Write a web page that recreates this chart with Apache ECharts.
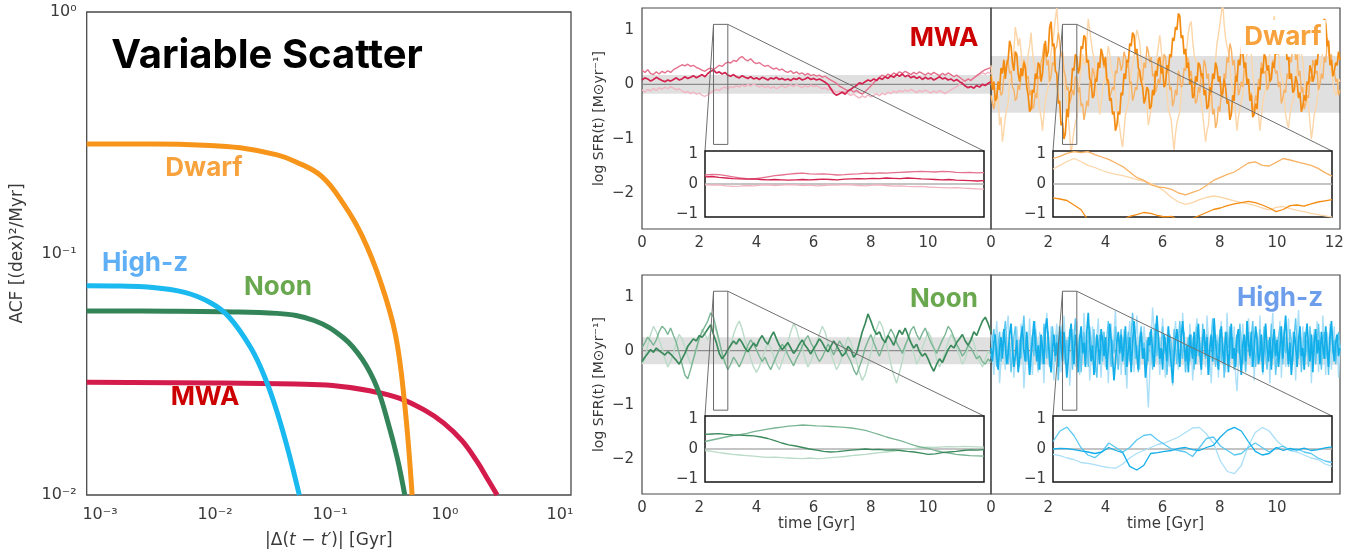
<!DOCTYPE html>
<html><head><meta charset="utf-8">
<script src="https://cdn.jsdelivr.net/npm/echarts@6/dist/echarts.min.js"></script>
<style>html,body{margin:0;padding:0;background:#fff}#c{width:1364px;height:554px}</style>
</head><body><div id="c"></div>
<script>
// ---------- Left panel: autocorrelation functions [|dt| (Gyr), ACF] ----------
const acfDwarf = [[0.000766,0.284],[0.003,0.284],[0.008,0.281],[0.0166,0.274],[0.0347,0.256],[0.0502,0.240],[0.0843,0.209],[0.1315,0.160],[0.1905,0.118],[0.275,0.0764],[0.371,0.0461],[0.447,0.0236],[0.518,0.0100]];
const acfHighz = [[0.000766,0.0735],[0.0015,0.0733],[0.0026,0.0726],[0.00545,0.0690],[0.00914,0.0625],[0.01324,0.0546],[0.02065,0.0404],[0.0278,0.0298],[0.0347,0.0220],[0.0434,0.0152],[0.0541,0.0100]];
const acfNoon = [[0.000766,0.0578],[0.004,0.0577],[0.01143,0.0574],[0.0347,0.0565],[0.0728,0.0528],[0.1315,0.0447],[0.1905,0.0365],[0.256,0.0279],[0.320,0.0199],[0.385,0.0142],[0.447,0.0100]];
const acfMWA = [[0.000766,0.0293],[0.01,0.0291],[0.05,0.0288],[0.1054,0.0284],[0.221,0.0270],[0.399,0.0252],[0.670,0.0224],[0.970,0.0199],[1.406,0.0168],[1.892,0.0138],[2.36,0.0116],[2.84,0.0100]];
const acfXTicks = [0.001,0.01,0.1,1,10];
const acfYTicks = [0.01,0.1,1];

// ---------- Right panels: log SFR(t) tracks ----------
const mainT0 = 0, mainDt = 0.1, fineDt = 0.05;
const mwaA = [0.08,0.12,0.10,0.06,0.09,0.13,0.10,0.07,0.05,0.08,0.06,
0.09,0.12,0.08,0.10,0.14,0.11,0.13,0.16,0.12,0.15,
0.18,0.14,0.20,0.24,0.26,0.21,0.23,0.19,0.22,0.17,
0.15,0.18,0.14,0.12,0.16,0.13,0.11,0.14,0.10,0.12,
0.09,0.13,0.11,0.08,0.12,0.10,0.13,0.09,0.11,0.08,
0.10,0.07,0.11,0.09,0.12,0.08,0.10,0.13,0.09,0.11,
0.08,0.10,0.07,0.04,0.00,-0.08,-0.16,-0.20,-0.17,-0.14,
-0.18,-0.12,-0.09,-0.05,-0.02,0.03,0.01,0.05,0.08,0.06,
0.10,0.07,0.12,0.09,0.14,0.11,0.16,0.13,0.18,0.15,
0.19,0.14,0.17,0.12,0.15,0.11,0.14,0.09,0.13,0.10,
0.12,0.08,0.11,0.14,0.10,0.12,0.08,0.10,0.06,0.09,
0.05,0.02,-0.03,-0.06,-0.04,-0.07,-0.02,-0.05,0.00,-0.02,
0.02,0.05];
const mwaB = [0.26,0.22,0.27,0.20,0.18,0.23,0.19,0.24,0.21,0.25,0.22,
0.27,0.30,0.33,0.36,0.34,0.37,0.33,0.35,0.31,0.29,
0.26,0.24,0.28,0.30,0.27,0.31,0.35,0.33,0.38,0.41,
0.39,0.44,0.42,0.48,0.51,0.46,0.43,0.47,0.41,0.38,
0.40,0.36,0.33,0.35,0.31,0.28,0.30,0.26,0.28,0.24,
0.22,0.25,0.20,0.23,0.19,0.21,0.17,0.20,0.16,0.18,
0.15,0.17,0.13,0.15,0.11,0.08,0.05,0.02,-0.03,-0.06,
-0.09,-0.12,-0.10,-0.14,-0.11,-0.15,-0.18,-0.13,-0.08,-0.03,
0.03,0.08,0.13,0.17,0.14,0.19,0.16,0.21,0.18,0.23,
0.20,0.24,0.21,0.18,0.22,0.19,0.23,0.20,0.17,0.21,
0.18,0.22,0.19,0.16,0.20,0.17,0.21,0.18,0.14,0.17,
0.13,0.09,0.06,0.10,0.07,0.12,0.16,0.20,0.24,0.27,
0.29,0.31];
const mwaC = [-0.10,-0.14,-0.09,-0.12,-0.07,-0.11,-0.06,-0.09,-0.05,-0.08,-0.04,
-0.07,-0.10,-0.08,-0.12,-0.15,-0.13,-0.17,-0.14,-0.18,-0.16,
-0.20,-0.22,-0.19,-0.15,-0.12,-0.09,-0.11,-0.07,-0.05,-0.08,
-0.04,-0.06,-0.02,-0.05,-0.01,-0.04,0.00,-0.03,0.01,-0.02,
-0.05,-0.02,-0.06,-0.03,-0.07,-0.04,-0.08,-0.05,-0.02,-0.06,
-0.03,-0.01,-0.04,0.00,-0.03,-0.06,-0.02,-0.05,-0.01,-0.04,
-0.02,-0.05,-0.08,-0.06,-0.10,-0.07,-0.11,-0.14,-0.12,-0.16,
-0.13,-0.17,-0.20,-0.18,-0.22,-0.25,-0.21,-0.24,-0.19,-0.23,
-0.20,-0.17,-0.21,-0.16,-0.19,-0.14,-0.17,-0.12,-0.15,-0.11,
-0.14,-0.10,-0.13,-0.09,-0.12,-0.15,-0.11,-0.14,-0.10,-0.13,
-0.16,-0.12,-0.15,-0.11,-0.14,-0.17,-0.13,-0.10,-0.07,-0.04,
0.00,0.04,0.07,0.10,0.08,0.12,0.15,0.18,0.21,0.19,
0.22,0.20];
// Dwarf tracks sampled every 0.05 Gyr
const dwarfA = [0.15,-0.10,0.05,-0.30,-0.25,0.05,-0.10,0.30,0.20,0.45,
0.10,0.35,0.45,0.80,0.70,0.40,0.25,0.60,0.55,0.20,
0.05,0.30,0.15,0.40,0.30,-0.05,-0.20,-0.50,-0.45,-0.10,
-0.15,0.20,0.10,0.40,0.35,0.05,0.20,0.55,0.80,0.50,
0.60,1.05,1.15,0.70,0.75,0.25,0.20,-0.35,-0.30,-0.75,
-0.70,-1.00,-0.90,-0.45,-0.60,-0.15,-0.10,0.30,0.25,0.55,
0.50,0.20,0.30,0.70,0.65,0.90,0.85,0.40,0.45,0.10,
0.05,-0.25,-0.20,0.10,0.05,0.40,0.30,0.65,0.55,0.35,
0.50,0.10,0.05,-0.30,-0.25,-0.55,-0.50,-0.85,-0.75,-0.50,
-0.55,-0.15,-0.20,0.20,0.10,0.45,0.40,0.75,0.70,0.95,
0.90,0.55,0.65,0.30,0.25,0.05,-0.05,-0.35,-0.25,-0.05,
-0.10,-0.45,-0.40,-0.10,-0.20,0.25,0.15,0.45,0.50,0.20,
0.30,-0.05,0.00,0.35,0.25,0.55,0.50,0.85,0.80,1.05,
1.00,1.30,1.25,0.85,0.90,0.55,0.65,0.30,0.40,0.00,
0.10,-0.25,-0.20,0.15,0.05,0.40,0.35,0.15,0.20,-0.20,
-0.10,-0.45,-0.40,-0.05,-0.15,0.20,0.10,0.40,0.30,0.05,
0.15,-0.20,-0.15,0.10,-0.05,-0.35,-0.30,-0.65,-0.55,-0.20,
-0.30,0.15,0.05,0.45,0.35,0.70,0.60,0.30,0.40,0.00,
0.10,-0.30,-0.20,-0.60,-0.55,-0.35,-0.45,-0.05,-0.10,0.30,
0.20,0.55,0.50,0.25,0.35,0.05,0.10,0.40,0.30,0.65,
0.55,0.90,0.80,1.05,1.00,0.70,0.80,0.45,0.50,0.10,
0.20,-0.15,-0.10,0.15,0.05,-0.25,-0.15,-0.50,-0.40,-0.20,
-0.30,0.05,0.00,0.35,0.25,0.05,0.15,0.45,0.35,0.65,
0.60,0.90,0.85,1.20,1.10,0.70,0.80,0.35,0.45,0.15,
0.25,0.40,0.35,0.60,0.45];
const dwarfB = [-0.20,-0.35,-0.45,-0.20,-0.25,0.05,-0.05,-0.20,-0.15,0.15,
0.20,0.45,0.40,0.20,0.25,-0.05,-0.10,-0.30,-0.25,0.00,
-0.10,0.15,0.20,0.45,0.35,0.10,0.15,-0.20,-0.10,-0.45,
-0.40,-0.15,-0.25,0.15,0.10,0.40,0.50,0.75,0.60,0.35,
0.45,0.05,0.15,0.40,0.35,0.65,0.70,0.95,0.80,0.50,
0.60,0.25,0.15,-0.10,-0.05,-0.35,-0.25,-0.10,-0.20,0.15,
0.10,-0.15,-0.05,-0.40,-0.35,-0.65,-0.50,-0.30,-0.40,0.05,
-0.05,0.30,0.20,0.05,0.15,0.40,0.35,0.65,0.50,0.30,
0.40,0.00,0.10,-0.25,-0.15,-0.05,-0.10,0.25,0.20,0.50,
0.45,0.25,0.35,0.60,0.50,0.30,0.40,0.00,0.05,-0.30,
-0.20,-0.05,-0.10,0.25,0.15,0.05,0.10,0.40,0.30,0.70,
0.60,0.40,0.50,0.15,0.20,-0.15,-0.05,0.10,0.00,0.35,
0.30,0.55,0.50,0.20,0.30,-0.10,-0.05,-0.40,-0.30,-0.10,
-0.20,0.25,0.15,-0.05,0.00,0.30,0.25,0.50,0.45,0.15,
0.25,-0.10,-0.05,-0.35,-0.30,-0.05,-0.15,0.20,0.10,0.45,
0.35,0.10,0.20,-0.20,-0.10,-0.55,-0.45,-0.80,-0.70,-0.40,
-0.50,-0.15,-0.25,0.20,0.10,0.50,0.40,0.75,0.65,0.35,
0.45,0.10,0.20,-0.20,-0.10,0.05,-0.05,0.30,0.25,0.05,
0.10,-0.25,-0.15,-0.50,-0.40,-0.20,-0.30,0.10,0.00,0.40,
0.30,0.20,0.25,-0.10,-0.05,0.15,0.20,0.45,0.35,0.20,
0.25,-0.05,0.05,-0.35,-0.25,-0.10,-0.15,0.20,0.10,0.50,
0.40,0.80,0.70,0.45,0.55,0.15,0.25,-0.15,-0.05,-0.45,
-0.35,-0.20,-0.25,0.15,0.05,0.45,0.35,0.20,0.25,-0.10,
0.00,0.20,0.10,0.50,0.40,0.85,0.75,0.45,0.55,0.15,
0.25,0.05,0.10,-0.20,-0.10];
const dwarfC = [0.35,0.10,-0.05,-0.40,-0.30,-0.20,-0.75,-0.60,-1.05,-0.85,
-0.60,-0.45,-0.35,0.10,0.05,0.45,0.60,1.05,0.90,0.70,
0.85,0.60,0.30,0.20,0.10,0.30,0.55,0.70,0.95,0.60,
0.40,0.25,0.20,-0.20,-0.45,-0.60,-0.85,-0.55,-0.30,-0.15,
-0.05,0.25,0.60,0.75,0.95,1.20,1.40,1.00,0.75,0.55,
0.45,0.10,-0.20,-0.35,-0.60,-0.90,-1.30,-1.05,-0.85,-0.70,
-0.60,-0.30,0.05,0.30,0.55,0.40,0.35,0.80,1.20,1.00,
0.80,0.60,0.50,0.15,-0.15,-0.30,-0.55,-0.35,-0.10,0.05,
0.15,0.45,0.70,0.55,0.30,0.20,0.10,-0.20,-0.50,-0.65,
-0.80,-1.00,-1.15,-0.85,-0.55,-0.45,-0.35,-0.05,0.20,0.35,
0.50,0.80,1.00,0.90,0.75,0.45,0.15,0.00,-0.10,-0.40,
-0.75,-0.60,-0.45,-0.25,-0.10,0.20,0.50,0.70,0.90,0.65,
0.35,0.25,0.20,-0.15,-0.45,-0.55,-0.65,-0.95,-1.20,-0.90,
-0.70,-0.60,-0.50,-0.15,0.10,0.25,0.40,0.70,0.95,1.10,
1.15,0.80,0.55,0.45,0.40,0.10,-0.20,-0.35,-0.55,-0.80,
-1.05,-0.85,-0.75,-0.40,-0.15,0.00,0.10,0.45,0.75,0.90,
1.10,1.30,1.50,1.10,0.85,0.70,0.60,0.30,0.05,-0.10,
-0.25,-0.55,-0.85,-0.60,-0.45,-0.30,-0.20,0.15,0.40,0.55,
0.70,0.60,0.55,0.20,-0.05,-0.15,-0.30,-0.55,-0.85,-0.60,
-0.35,-0.20,-0.10,0.15,0.45,0.55,0.70,0.95,1.25,1.00,
0.85,0.60,0.25,0.15,0.05,-0.25,-0.55,-0.70,-0.80,-0.55,
-0.40,-0.30,-0.20,0.05,0.35,0.50,0.65,0.55,0.45,0.10,
-0.15,-0.25,-0.40,-0.70,-1.00,-0.80,-0.55,-0.45,-0.30,0.00,
0.30,0.45,0.60,0.90,1.20,0.85,0.55,0.40,0.25,0.05,
-0.10,-0.20,-0.15,0.10,0.05];
const noonA = [-0.20,-0.12,-0.05,0.02,-0.03,0.05,0.00,-0.04,-0.08,-0.02,-0.06,
-0.12,-0.18,-0.25,-0.15,-0.05,0.08,0.15,0.22,0.18,0.28,
0.25,0.32,0.40,0.48,0.30,0.15,-0.05,-0.15,-0.08,0.02,
0.10,0.18,0.12,0.22,0.15,0.05,-0.02,0.06,0.14,0.08,
0.20,0.28,0.18,0.12,0.25,0.35,0.22,0.10,0.02,0.08,
0.15,0.05,-0.05,0.02,0.12,0.20,0.10,0.03,-0.06,0.04,
0.12,0.22,0.15,0.05,-0.02,0.08,0.18,0.10,0.00,-0.10,
-0.05,0.08,0.02,-0.12,-0.05,0.15,0.35,0.50,0.68,0.55,
0.40,0.30,0.35,0.22,0.15,0.28,0.20,0.10,0.25,0.38,
0.30,0.42,0.28,0.15,0.05,0.12,-0.02,-0.10,-0.05,-0.15,
-0.28,-0.38,-0.25,-0.15,-0.22,-0.10,0.02,0.10,0.05,0.15,
0.22,0.30,0.18,0.10,0.20,0.35,0.28,0.42,0.55,0.62,
0.50,0.35];
const noonB = [0.05,0.15,0.25,0.18,0.10,0.20,0.35,0.45,0.40,0.30,0.42,
0.28,0.15,-0.05,-0.25,-0.45,-0.52,-0.35,-0.15,0.05,0.22,
0.35,0.45,0.55,0.70,0.62,0.40,0.18,-0.05,-0.22,-0.35,
-0.25,-0.12,-0.20,-0.30,-0.18,-0.05,0.10,0.20,0.12,0.02,
-0.10,-0.20,-0.12,-0.25,-0.35,-0.22,-0.10,0.02,0.12,0.05,
-0.08,-0.18,-0.28,-0.15,-0.05,0.08,0.20,0.28,0.15,0.05,
-0.10,-0.20,-0.12,0.00,0.12,0.05,-0.08,0.05,0.18,0.10,
0.02,-0.10,-0.20,-0.35,-0.45,-0.30,-0.15,0.05,0.18,0.30,
0.15,0.02,-0.10,0.05,0.18,0.28,0.40,0.30,0.15,0.05,
-0.05,0.10,0.22,0.38,0.45,0.30,0.20,0.32,0.42,0.28,
0.15,0.05,-0.05,0.08,0.20,0.30,0.45,0.38,0.25,0.12,
0.02,-0.10,-0.02,0.10,0.05,-0.05,-0.15,-0.10,-0.20,-0.25,
-0.15,-0.22];
const noonC = [-0.25,-0.15,0.10,0.30,0.45,0.35,0.20,0.05,-0.15,-0.30,-0.20,
-0.05,0.15,0.30,0.22,0.08,-0.10,-0.25,-0.15,0.00,0.20,
0.40,0.30,0.20,0.35,0.50,0.35,0.15,-0.05,-0.25,-0.10,
0.10,0.30,0.45,0.55,0.40,0.20,0.05,-0.15,-0.30,-0.40,
-0.30,-0.15,0.00,0.15,0.05,-0.10,-0.25,-0.35,-0.20,-0.05,
0.15,0.35,0.50,0.40,0.20,0.05,-0.15,-0.30,-0.20,-0.05,
0.15,0.30,0.45,0.35,0.15,-0.05,-0.20,-0.35,-0.25,-0.10,
0.10,0.25,0.15,0.00,-0.20,-0.40,-0.55,-0.45,-0.25,-0.05,
0.20,0.40,0.55,0.45,0.25,0.00,-0.25,-0.45,-0.60,-0.40,
-0.20,0.05,0.25,0.15,-0.05,-0.25,-0.15,0.05,0.20,0.35,
0.25,0.05,-0.15,-0.30,-0.20,0.00,0.15,0.30,0.20,0.05,
-0.10,-0.25,-0.15,0.05,0.25,0.15,-0.05,-0.20,-0.30,-0.15,
0.00,-0.10];
// High-z tracks sampled every 0.05 Gyr
const highzA = [0.05,-0.20,0.15,0.30,-0.10,-0.35,0.05,0.25,-0.15,0.40,
0.10,-0.25,-0.05,0.30,0.50,0.05,-0.30,-0.10,0.20,-0.40,
-0.15,0.25,0.45,0.00,-0.20,0.35,-0.05,-0.45,-0.10,0.20,
0.55,0.15,-0.20,0.10,-0.35,0.30,0.05,-0.25,0.40,0.60,
0.20,-0.15,-0.40,0.05,0.30,-0.10,0.15,-0.30,0.45,0.10,
-0.20,0.35,-0.05,-0.50,-0.15,0.25,0.50,0.05,-0.25,0.30,
0.10,-0.40,0.20,0.45,-0.05,0.15,-0.30,0.35,0.70,0.15,
-0.20,0.10,-0.45,-0.15,0.30,0.05,-0.25,0.40,0.20,-0.10,
0.25,-0.35,0.05,0.50,0.20,-0.15,-0.55,-0.20,0.15,0.35,
-0.05,0.30,-0.20,0.10,0.45,-0.30,0.00,0.25,-0.40,0.15,
0.55,0.20,-0.10,-0.35,0.15,0.35,-0.15,0.05,-0.50,-0.20,
0.25,0.10,0.40,-0.05,-0.30,0.20,0.65,0.25,-0.15,0.05,
-0.35,0.30,0.10,-0.20,0.45,0.05,-0.25,-0.60,-0.10,0.20,
0.40,0.00,-0.30,0.25,0.55,0.15,-0.20,0.10,-0.40,0.30,
0.05,-0.15,0.35,-0.25,0.15,0.50,-0.05,-0.35,0.20,0.40,
-0.10,0.25,-0.45,0.05,0.30,-0.20,0.60,0.15,-0.10,-0.35,
0.20,0.45,0.00,-0.25,0.35,0.10,-0.40,0.15,0.50,-0.15,
0.05,-0.30,0.25,0.40,-0.05,-0.45,0.10,0.30,-0.20,0.55,
0.15,-0.10,0.35,-0.30,0.05,0.45,0.20,-0.25,-0.05,0.30,
-0.40,0.10,0.50,0.05,-0.20,0.25,-0.35,0.15,0.40,-0.10,
0.20,-0.30,0.05,0.45,-0.15,0.30,0.65,0.10,-0.25,0.15,
-0.45,-0.05,0.35,0.10,-0.30,0.20,0.45,-0.10,0.05,-0.35,
0.25,0.50,0.05,-0.20,0.30,-0.40,0.15,0.40,-0.05,0.20,
-0.25,0.35,0.10,-0.15,0.45,0.05,-0.30,0.25,0.55,0.10,
-0.20,0.15,0.30,-0.10,0.05];
const highzB = [-0.15,0.20,0.40,0.05,-0.30,0.10,0.35,-0.20,-0.05,0.30,
0.55,0.10,-0.25,0.15,-0.40,-0.10,0.25,0.45,0.00,-0.30,
0.20,-0.15,0.35,0.65,0.15,-0.20,0.05,-0.45,0.10,0.30,
-0.10,0.40,0.15,-0.35,-0.05,0.25,-0.25,0.50,0.20,-0.15,
0.35,-0.30,0.05,0.45,0.10,-0.20,0.30,-0.55,-0.15,0.20,
0.50,0.05,-0.25,0.20,-0.10,0.40,0.15,-0.35,0.25,0.60,
0.10,-0.20,0.30,-0.40,0.05,0.35,-0.15,0.20,-0.30,0.45,
0.15,-0.10,0.40,-0.25,-0.50,0.05,0.30,0.10,-0.20,0.35,
-0.15,0.25,0.55,0.10,-0.30,0.20,-0.05,0.45,0.00,-0.35,
0.15,0.40,-0.10,0.25,-0.45,0.05,0.35,-0.20,0.30,0.70,
0.20,-0.15,0.10,-0.40,0.25,0.45,-0.05,0.15,-0.30,0.20,
-0.20,0.35,0.05,-0.35,0.20,0.50,-0.10,0.30,-0.25,0.10,
0.45,-0.05,0.25,-0.45,-0.10,0.30,0.15,-0.30,0.40,0.05,
-0.25,0.20,0.55,0.10,-0.15,0.35,-0.40,0.00,0.25,-0.20,
0.30,0.05,-0.35,0.20,0.45,-0.10,0.15,-0.25,0.50,0.10,
-0.15,0.30,-0.45,0.05,0.25,0.60,0.10,-0.30,0.20,-0.05,
0.40,-0.20,0.15,-0.50,-0.10,0.35,0.05,0.45,-0.15,0.25,
-0.35,0.10,0.30,-0.05,0.50,0.15,-0.25,0.20,-0.40,0.05,
0.35,-0.15,0.25,0.55,0.05,-0.30,0.15,-0.10,0.40,-0.20,
0.10,0.45,-0.05,-0.35,0.20,0.05,0.50,-0.15,0.30,-0.45,
-0.10,0.25,0.45,0.00,-0.25,0.35,-0.05,0.15,-0.30,0.40,
0.15,-0.20,0.30,0.60,0.10,-0.15,0.25,-0.40,0.05,0.35,
-0.10,0.20,-0.30,0.45,0.15,-0.05,0.30,-0.25,0.10,0.50,
0.05,-0.35,0.20,0.35,-0.15,0.10,-0.45,0.25,0.40,-0.05,
0.20,-0.25,0.15,0.35,0.05];
const highzC = [0.30,-0.10,-0.45,0.15,0.55,0.05,-0.60,-0.20,0.35,0.10,
-0.35,0.40,0.65,0.00,-0.25,0.20,-0.50,-0.15,0.45,0.05,
-0.30,0.50,0.15,-0.70,-0.25,0.30,0.05,0.60,-0.10,-0.45,
0.20,0.55,-0.05,-0.40,0.35,-0.20,0.10,-0.60,0.25,0.70,
0.10,-0.30,0.45,-0.15,-0.55,0.20,0.50,-0.05,0.30,-0.40,
-0.05,0.65,0.15,-0.35,0.25,-0.65,-0.20,0.40,0.10,-0.30,
0.55,0.05,-0.45,0.30,-0.10,0.70,0.20,-0.25,0.35,-0.55,
-0.15,0.45,0.10,-0.40,0.25,0.60,-0.05,-0.50,0.15,0.35,
-0.30,0.20,-0.60,0.05,0.50,-0.15,0.30,0.75,0.10,-0.35,
0.25,-0.45,0.05,0.40,-0.20,-0.70,0.15,0.55,-0.10,0.30,
-0.40,0.20,0.65,-0.05,-0.35,0.30,-0.15,0.45,0.10,-0.55,
-1.05,-0.40,0.25,0.80,0.35,-0.20,0.50,0.05,-0.45,0.15,
0.60,-0.10,-0.50,0.25,0.45,-0.30,0.10,-0.65,0.20,0.55,
0.05,-0.35,0.40,-0.15,0.70,0.20,-0.40,0.15,-0.25,0.50,
0.10,-0.55,-0.15,0.35,0.60,-0.05,0.25,-0.45,0.15,0.40,
-0.30,0.65,0.20,-0.20,-0.60,0.10,0.45,-0.10,0.30,-0.50,
0.05,0.55,-0.25,0.20,-0.40,0.70,0.15,-0.30,0.35,-0.15,
0.45,-0.45,-0.75,-0.20,0.30,-0.05,0.50,0.10,-0.35,0.25,
0.60,0.05,-0.30,0.40,-0.55,0.15,0.35,-0.20,0.65,0.00,
-0.45,0.20,0.45,-0.25,0.10,-0.60,0.30,0.70,0.05,-0.35,
0.25,-0.15,0.55,-0.50,0.05,0.40,-0.30,0.20,0.60,-0.10,
-0.40,0.35,0.10,-0.55,0.25,0.75,0.15,-0.20,0.45,-0.35,
0.05,0.50,-0.25,0.30,-0.60,0.15,0.40,-0.10,0.55,-0.40,
0.20,-0.30,0.65,0.10,-0.45,0.35,-0.05,0.50,-0.35,0.15,
0.45,-0.20,0.30,-0.50,0.10];

// ---------- Insets: zoom on 2.5-3.0 Gyr, sampled every 0.0125 Gyr ----------
const insetT0 = 2.5, insetDt = 0.0125;
const zoomBox = [2.5, 3.0, -1.1, 1.1]; // t0, t1, ymin, ymax
const mwaInA = [0.24,0.25,0.22,0.20,0.18,0.17,0.16,0.17,0.15,0.14,0.15,0.14,0.13,0.14,0.15,0.14,0.15,0.16,0.15,0.14,0.16,0.17,0.18,0.17,0.19,0.18,0.20,0.19,0.18,0.20,0.19,0.17,0.16,0.15,0.14,0.15,0.13,0.12,0.11,0.10,0.11];
const mwaInB = [0.30,0.32,0.31,0.28,0.24,0.20,0.18,0.17,0.20,0.24,0.28,0.30,0.33,0.35,0.36,0.34,0.33,0.34,0.32,0.30,0.31,0.33,0.34,0.36,0.35,0.37,0.36,0.38,0.39,0.40,0.41,0.42,0.41,0.40,0.42,0.41,0.39,0.38,0.39,0.37,0.38];
const mwaInC = [-0.02,-0.04,-0.03,-0.06,-0.08,-0.07,-0.05,-0.06,-0.04,-0.03,-0.05,-0.04,-0.02,-0.03,-0.05,-0.04,-0.06,-0.05,-0.03,-0.04,-0.02,-0.03,-0.05,-0.06,-0.04,-0.03,-0.05,-0.07,-0.06,-0.08,-0.09,-0.08,-0.10,-0.11,-0.12,-0.13,-0.12,-0.14,-0.15,-0.16,-0.17];
const dwarfInA = [-0.46,-0.50,-0.55,-0.70,-0.85,-1.20,-1.30,-1.35,-1.40,-1.30,-1.20,-1.08,-1.02,-0.95,-0.98,-1.05,-1.10,-1.08,-1.20,-1.25,-1.15,-1.05,-0.95,-0.85,-0.80,-0.72,-0.66,-0.62,-0.58,-0.62,-0.70,-0.80,-0.92,-0.85,-0.72,-0.70,-0.74,-0.66,-0.60,-0.56,-0.52];
const dwarfInB = [0.85,0.92,1.02,1.08,1.05,1.08,0.98,0.90,0.82,0.70,0.58,0.40,0.22,0.12,-0.02,-0.10,-0.12,-0.18,-0.30,-0.36,-0.28,-0.20,-0.05,0.12,0.22,0.32,0.40,0.55,0.70,0.74,0.62,0.60,0.72,0.85,0.80,0.74,0.68,0.62,0.52,0.38,0.26];
const dwarfInC = [0.50,0.62,0.75,0.85,0.75,0.62,0.55,0.45,0.38,0.32,0.28,0.22,0.15,0.10,0.02,-0.08,-0.25,-0.45,-0.60,-0.68,-0.62,-0.52,-0.45,-0.40,-0.44,-0.50,-0.56,-0.62,-0.66,-0.72,-0.80,-0.86,-0.78,-0.75,-0.82,-0.88,-0.92,-0.98,-1.02,-1.06,-1.10];
const noonInA = [0.49,0.50,0.51,0.49,0.47,0.46,0.45,0.44,0.40,0.35,0.28,0.20,0.14,0.10,0.05,0.00,-0.04,-0.08,-0.10,-0.09,-0.06,-0.04,-0.02,0.00,-0.02,-0.01,-0.04,-0.03,-0.05,-0.08,-0.10,-0.14,-0.18,-0.16,-0.12,-0.10,-0.08,-0.05,-0.03,-0.04,-0.02];
const noonInB = [0.25,0.30,0.35,0.40,0.45,0.48,0.52,0.58,0.62,0.66,0.70,0.73,0.76,0.78,0.80,0.79,0.77,0.76,0.75,0.74,0.72,0.70,0.66,0.62,0.55,0.48,0.40,0.34,0.28,0.20,0.12,0.06,0.02,-0.05,-0.10,-0.14,-0.18,-0.20,-0.22,-0.23,-0.24];
const noonInC = [-0.05,-0.08,-0.12,-0.15,-0.18,-0.20,-0.22,-0.24,-0.26,-0.28,-0.27,-0.29,-0.30,-0.31,-0.32,-0.30,-0.32,-0.31,-0.29,-0.27,-0.25,-0.22,-0.20,-0.18,-0.15,-0.12,-0.10,-0.08,-0.04,0.00,0.02,0.05,0.06,0.05,0.07,0.08,0.07,0.09,0.08,0.07,0.06];
const highzInA = [0.00,0.02,0.01,-0.02,-0.06,-0.10,-0.15,-0.10,0.05,-0.05,-0.12,-0.58,-0.70,-0.55,-0.15,-0.12,-0.08,-0.05,0.02,0.05,-0.02,-0.05,0.05,0.12,0.40,0.62,0.72,0.60,0.25,-0.08,-0.20,-0.15,0.05,-0.05,0.02,-0.04,0.03,-0.05,-0.02,0.04,0.07];
const highzInB = [0.25,0.60,0.73,0.45,0.05,-0.20,-0.29,-0.10,0.20,0.05,-0.10,0.05,0.30,0.45,0.49,0.30,0.15,0.00,-0.05,-0.10,-0.25,0.05,0.35,0.40,0.10,-0.05,-0.20,-0.15,0.05,0.20,0.05,-0.10,0.02,0.10,-0.05,0.00,-0.10,-0.15,-0.30,-0.40,-0.45];
const highzInC = [-0.18,-0.22,-0.30,-0.35,-0.45,-0.48,-0.52,-0.58,-0.62,-0.64,-0.50,-0.30,-0.15,-0.05,0.05,0.15,0.20,0.30,0.40,0.55,0.70,0.72,0.50,0.20,-0.40,-0.75,-0.82,-0.55,0.10,0.55,0.72,0.60,0.30,0.08,-0.05,-0.10,-0.20,-0.30,-0.35,-0.50,-0.58];

// ---------- panel meta ----------
const panelNames = ['MWA','Dwarf','Noon','High-z'];
const bandHalf = [0.17, 0.52, 0.25, 0.26];
const sampleStep = [mainDt, fineDt, mainDt, fineDt];
const xTickMain = [[0,2,4,6,8,10],[0,2,4,6,8,10,12],[0,2,4,6,8,10],[0,2,4,6,8,10]];
const yTickMain = [-2,-1,0,1];
const yTickInset = [-1,0,1];

const palette = {
  MWA:   ['#d42350','#e4718d','#f2b4c3'],
  Dwarf: ['#f48c12','#f8b264','#fcd6a8'],
  Noon:  ['#3a8a5c','#79b593','#b9dbc7'],
  'High-z': ['#12aeea','#5cc8f2','#aadff7']
};
const mainSeries = [[mwaA,mwaB,mwaC],[dwarfA,dwarfB,dwarfC],[noonA,noonB,noonC],[highzA,highzB,highzC]];
const insetSeries = [[mwaInA,mwaInB,mwaInC],[dwarfInA,dwarfInB,dwarfInC],[noonInA,noonInB,noonInC],[highzInA,highzInB,highzInC]];

function pairs(t0, dt, vals){ return vals.map((v,i)=>[+(t0+i*dt).toFixed(4), v]); }
const minus = v => (v<0 ? '\u2212' : '') + Math.abs(v);
const sup = {'-3':'\u207B\u00B3','-2':'\u207B\u00B2','-1':'\u207B\u00B9','0':'\u2070','1':'\u00B9'};
const powLabel = v => '10' + sup[String(Math.round(Math.log10(v)))];

const FONT = 'DejaVu Sans';
const labelColor = '#3a3a3a';

// ---------- layout ----------
const grids = [
  {left:86.7, top:12, width:484.3, height:483.7, show:true, borderColor:'#4a4a4a', borderWidth:1.3},
  {left:642, top:8, width:349, height:221, show:true, borderColor:'#4a4a4a', borderWidth:1.2},
  {left:991, top:8, width:349, height:221, show:true, borderColor:'#4a4a4a', borderWidth:1.2},
  {left:642, top:275, width:349, height:219, show:true, borderColor:'#4a4a4a', borderWidth:1.2},
  {left:991, top:275, width:349, height:219, show:true, borderColor:'#4a4a4a', borderWidth:1.2},
  {left:705, top:151, width:279, height:66, show:true, backgroundColor:'#fff', borderColor:'#151515', borderWidth:1.5, z:5},
  {left:1053, top:151, width:279, height:66, show:true, backgroundColor:'#fff', borderColor:'#151515', borderWidth:1.5, z:5},
  {left:705, top:416, width:279, height:66, show:true, backgroundColor:'#fff', borderColor:'#151515', borderWidth:1.5, z:5},
  {left:1053, top:416, width:279, height:66, show:true, backgroundColor:'#fff', borderColor:'#151515', borderWidth:1.5, z:5}
];

const xAxes = [{
  type:'log', gridIndex:0, min:0.000766, max:12.47, logBase:10,
  axisLine:{show:false}, axisTick:{show:false}, splitLine:{show:false},
  axisLabel:{customValues:acfXTicks, formatter:powLabel, color:labelColor, fontSize:16, fontFamily:FONT, margin:12},
  name:'|\u0394({i|t} \u2212 {i|t\u2032})| [Gyr]', nameLocation:'middle', nameGap:37,
  nameTextStyle:{fontSize:17, color:labelColor, fontFamily:FONT, rich:{i:{fontStyle:'italic', fontSize:17, color:labelColor, fontFamily:FONT}}}
}];
const yAxes = [{
  type:'log', gridIndex:0, min:0.01, max:1, logBase:10,
  axisLine:{show:false}, axisTick:{show:false}, splitLine:{show:false},
  axisLabel:{customValues:acfYTicks, formatter:powLabel, color:labelColor, fontSize:16, fontFamily:FONT, margin:10},
  name:'ACF [(dex)\u00B2/Myr]', nameLocation:'middle', nameGap:61, nameRotate:90,
  nameTextStyle:{fontSize:17, color:labelColor, fontFamily:FONT}
}];
for (let k=0;k<4;k++){
  const bottomRow = k>=2, leftCol = (k%2===0);
  xAxes.push({type:'value', gridIndex:1+k, min:0, max:12.2,
    axisLine:{show:false}, axisTick:{show:false}, splitLine:{show:false},
    axisLabel:{customValues:xTickMain[k], color:labelColor, fontSize:15, fontFamily:FONT, margin:7},
    name: bottomRow ? 'time [Gyr]' : '', nameLocation:'middle', nameGap:23,
    nameTextStyle:{fontSize:15, color:labelColor, fontFamily:FONT}});
  yAxes.push({type:'value', gridIndex:1+k, min:-2.65, max:1.4,
    axisLine:{show:false}, axisTick:{show:false}, splitLine:{show:false},
    axisLabel:{show:leftCol, customValues:yTickMain, formatter:minus, color:labelColor, fontSize:15, fontFamily:FONT, margin:8},
    name: leftCol ? 'log SFR(t) [M\u2299yr\u207B\u00B9]' : '', nameLocation:'middle', nameGap:36, nameRotate:90,
    nameTextStyle:{fontSize:14, color:labelColor, fontFamily:FONT}});
}
for (let k=0;k<4;k++){
  xAxes.push({type:'value', gridIndex:5+k, min:zoomBox[0], max:zoomBox[1], z:6,
    axisLine:{show:false}, axisTick:{show:false}, splitLine:{show:false}, axisLabel:{show:false}});
  yAxes.push({type:'value', gridIndex:5+k, min:zoomBox[2], max:zoomBox[3], z:6,
    axisLine:{show:false}, axisTick:{show:false}, splitLine:{show:false},
    axisLabel:{customValues:yTickInset, formatter:minus, color:labelColor, fontSize:15, fontFamily:FONT, margin:7}});
}

const series = [];
[[acfMWA,'#d41c4c'],[acfNoon,'#338559'],[acfHighz,'#1ab9ef'],[acfDwarf,'#f7941a']].forEach(([d,c])=>{
  series.push({type:'line', xAxisIndex:0, yAxisIndex:0, data:d, smooth:0.4,
    symbol:'none', lineStyle:{color:c, width:5}, z:2, silent:true});
});
for (let k=0;k<4;k++){
  const name = panelNames[k], cols = palette[name];
  series.push({type:'line', xAxisIndex:1+k, yAxisIndex:1+k, data:[[0,0],[12.2,0]], symbol:'none',
    lineStyle:{color:'#8c8c8c', width:1.2}, z:1, silent:true,
    markArea:{silent:true, itemStyle:{color:'rgba(0,0,0,0.12)'}, data:[[{yAxis:-bandHalf[k]},{yAxis:bandHalf[k]}]]}});
  for (let j=2;j>=0;j--){
    series.push({type:'line', xAxisIndex:1+k, yAxisIndex:1+k, data:pairs(mainT0, sampleStep[k], mainSeries[k][j]),
      symbol:'none', lineStyle:{color:cols[j], width:j===0?1.7:1.4}, z:2, silent:true});
  }
  series.push({type:'line', xAxisIndex:1+k, yAxisIndex:1+k, symbol:'none', silent:true, z:3,
    data:[[zoomBox[0],zoomBox[2]],[zoomBox[0],zoomBox[3]],[zoomBox[1],zoomBox[3]],[zoomBox[1],zoomBox[2]],[zoomBox[0],zoomBox[2]]],
    lineStyle:{color:'#6a6a6a', width:1}});
  series.push({type:'line', xAxisIndex:5+k, yAxisIndex:5+k, data:[[zoomBox[0],0],[zoomBox[1],0]], symbol:'none',
    lineStyle:{color:'#b0b0b0', width:1.5}, z:6, silent:true});
  for (let j=2;j>=0;j--){
    series.push({type:'line', xAxisIndex:5+k, yAxisIndex:5+k, data:pairs(insetT0, insetDt, insetSeries[k][j]),
      symbol:'none', lineStyle:{color:cols[j], width:1.3}, z:7, silent:true});
  }
}

const chart = echarts.init(document.getElementById('c'), null, {renderer:'canvas'});
chart.setOption({animation:false, backgroundColor:'#fff', grid:grids, xAxis:xAxes, yAxis:yAxes, series:series});

const TF = 'Inter';
const txt = (s, x, y, fill, size, extra) => Object.assign({type:'text', x:x, y:y, z:20, silent:true,
  style:Object.assign({text:s, fill:fill, fontSize:size, fontWeight:'bold', fontFamily:TF, align:'center', verticalAlign:'middle'}, extra||{})});
const graphics = [
  txt('Variable Scatter', 267, 56, '#000', 40),
  txt('Dwarf', 204, 168, '#f7a23c', 26),
  txt('High-z', 145, 263, '#5eaff6', 26),
  txt('Noon', 278, 287, '#6aa84f', 26),
  txt('MWA', 205, 397, '#cc0000', 26),
  txt('MWA', 944, 38, '#cc0000', 26),
  txt('Dwarf', 1283, 37, '#f7a23c', 26, {backgroundColor:'#fff', padding:[4,4,4,4]}),
  txt('Noon', 944, 299, '#6aa84f', 26),
  txt('High-z', 1280, 298, '#6d9eeb', 26)
];
for (let k=0;k<4;k++){
  const a = chart.convertToPixel({gridIndex:1+k}, [zoomBox[0], zoomBox[3]]);
  const b = chart.convertToPixel({gridIndex:1+k}, [zoomBox[1], zoomBox[3]]);
  const c = chart.convertToPixel({gridIndex:5+k}, [zoomBox[0], zoomBox[3]]);
  const d = chart.convertToPixel({gridIndex:5+k}, [zoomBox[1], zoomBox[3]]);
  graphics.push({type:'line', z:4, silent:true, shape:{x1:a[0],y1:a[1],x2:c[0],y2:c[1]}, style:{stroke:'#707070', lineWidth:1}});
  graphics.push({type:'line', z:4, silent:true, shape:{x1:b[0],y1:b[1],x2:d[0],y2:d[1]}, style:{stroke:'#707070', lineWidth:1}});
}
chart.setOption({graphic:graphics});
</script>
</body></html>
